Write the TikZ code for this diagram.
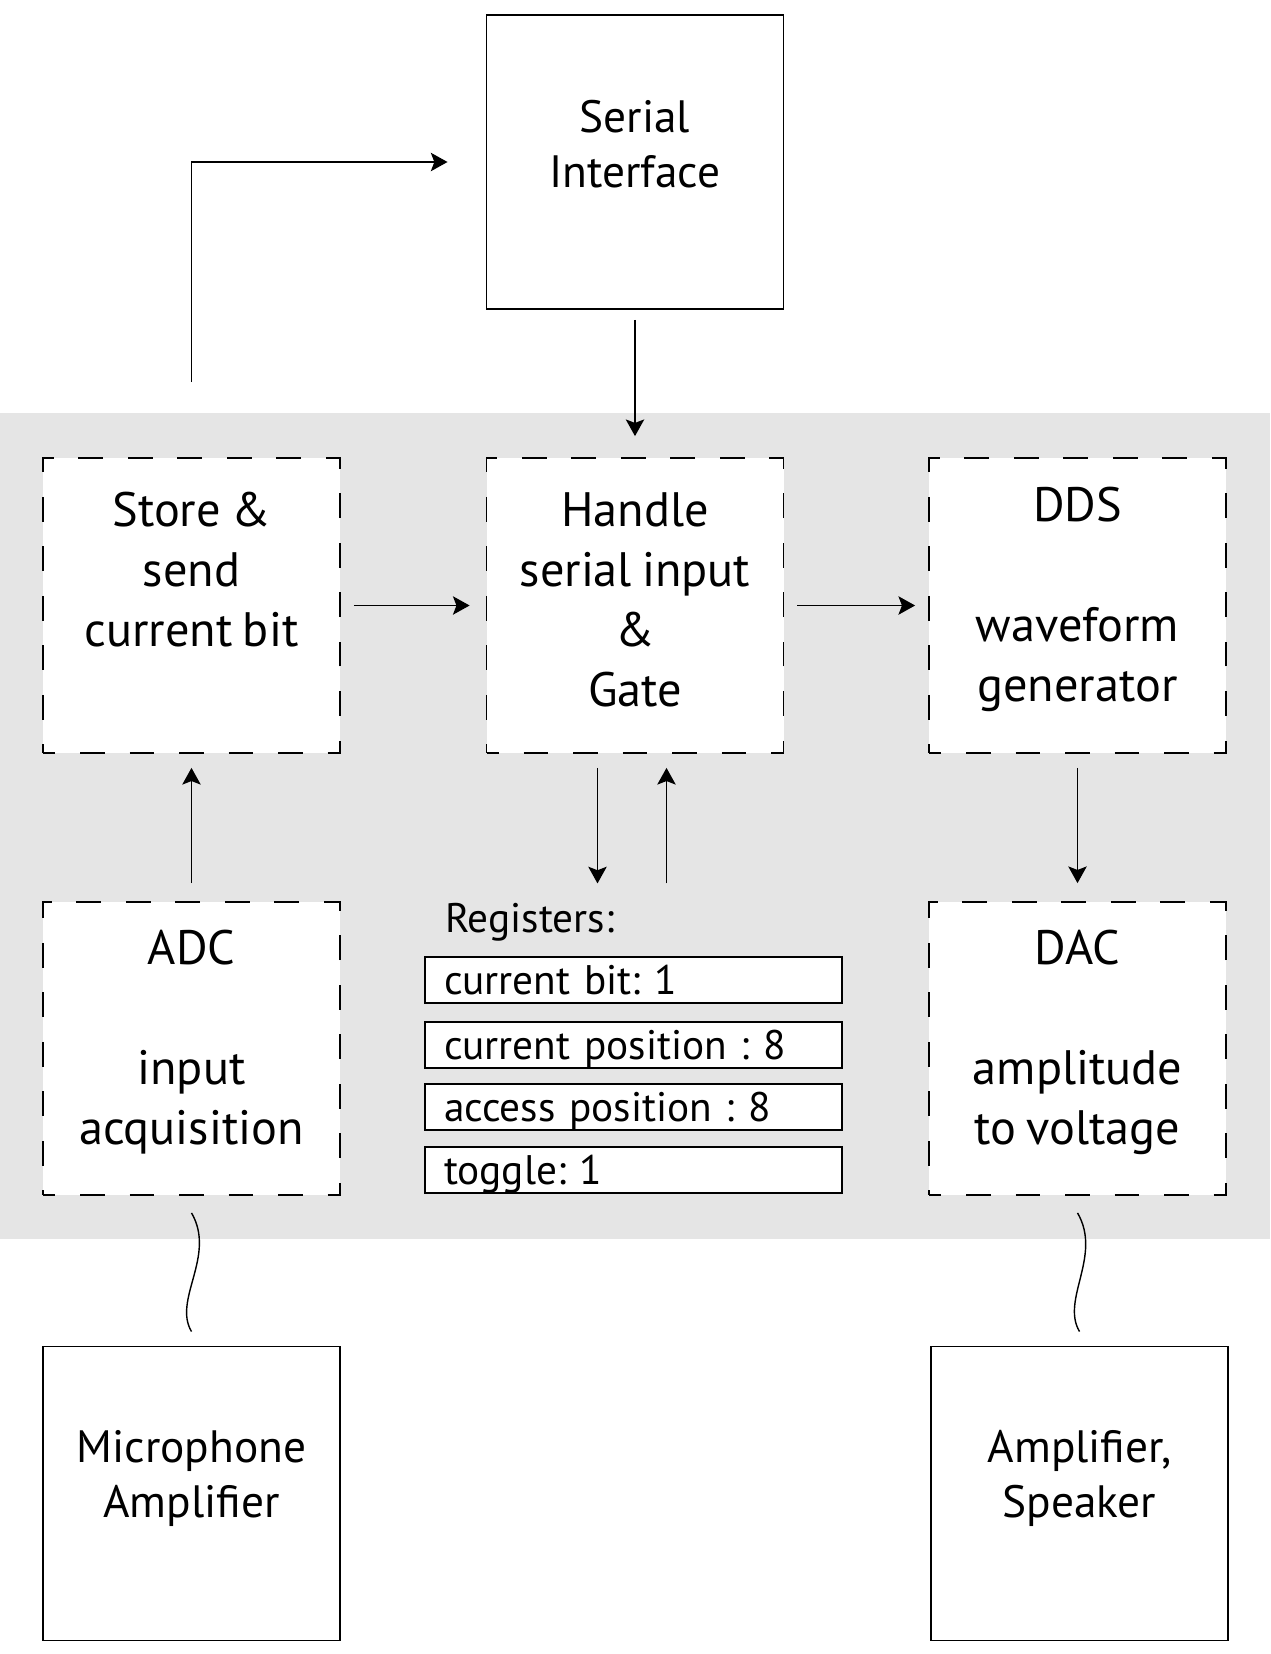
\documentclass[tikz,border=0pt]{standalone}
\usepackage{fontspec}
\setmainfont{PT Sans}[WordSpace=0.8]
\usepackage{tikz}
\usetikzlibrary{arrows.meta}

\definecolor{bandgray}{RGB}{229,229,229}
\frenchspacing

\tikzset{
    sysbox/.style={draw=black, line width=1.1pt, fill=white, text width=5.94cm, minimum height=5.88cm,
        inner sep=0pt, align=flush center, font=\fontsize{25.8}{31.3}\selectfont},
    blockbox/.style={draw=black, line width=1pt, dash pattern=on 14.08pt off 14.08pt, dash phase=7.04pt,
        fill=white, text width=5.94cm, minimum height=5.9cm, inner sep=0pt, align=flush center,
        font=\fontsize{27.5}{34.1}\selectfont, execute at end node=\vspace{0.24cm}},
    regbox/.style={draw=black, line width=1.1pt, fill=white, text width=7.58cm, minimum height=0.92cm,
        inner xsep=0.38cm, inner ysep=0pt, text height=0.56cm, text depth=0pt, align=left,
        font=\fontsize{23.5}{28}\selectfont},
    arr/.style={line width=0.8pt, -{Stealth[length=9.5pt, width=10.5pt, inset=2pt]}},
    wave/.style={line width=0.8pt}
}

\begin{document}
\begin{tikzpicture}
        \useasboundingbox (0, 0) rectangle (25.4, -33.08);
        \fill[bandgray] (0, -8.25) rectangle (25.4, -24.78);

        \node[sysbox] (serial) at (12.7, -3.24) {Serial\\Interface\\[-0.36cm]~};

        \node[blockbox] (store) at (3.83, -12.11) {Store \&\\send\\current bit\\~};
        \node[blockbox] (handle) at (12.7, -12.11) {Handle\\serial input\\\&\\Gate};
        \node[blockbox] (dds) at (21.55, -12.11) {DDS\\~\\waveform\\generator};
        \node[blockbox, minimum height=5.86cm] (adc) at (3.83, -20.97) {ADC\\~\\input\\acquisition};
        \node[blockbox, minimum height=5.86cm] (dac) at (21.55, -20.97) {DAC\\~\\amplitude\\to voltage};

        \node[anchor=base west, inner sep=0pt, font=\fontsize{23.5}{28}\selectfont] (reglabel) at (8.9, -18.64) {Registers:};
        \node[regbox] (regbit) at (12.67, -19.6) {current bit: 1};
        \node[regbox] (regcur) at (12.67, -20.9) {current position : 8};
        \node[regbox] (regacc) at (12.67, -22.14) {access position : 8};
        \node[regbox] (regtog) at (12.67, -23.4) {toggle: 1};

        \node[sysbox] (mic) at (3.83, -29.87) {Microphone\\Amplifier\\[-0.3cm]~};
        \node[sysbox] (spk) at (21.59, -29.87) {Amplifier,\\Speaker\\[-0.3cm]~};

        \draw [arr, shorten <=1.5cm, shorten >=0.76cm] (store.north) |- (serial.west);
        \path [arr, shorten <=0.2cm, shorten >=0.42cm] (serial) edge (handle);

        \path [arr, shorten <=0.26cm, shorten >=0.32cm] (store) edge (handle);
        \path [arr, shorten <=0.26cm, shorten >=0.26cm] (handle) edge (dds);
        \path [arr, shorten <=0.36cm, shorten >=0.28cm] (adc) edge (store);
        \path [arr, shorten <=0.28cm, shorten >=0.36cm] (dds) edge (dac);

        \draw [arr, shorten <=0.28cm, shorten >=0.38cm] ([xshift=-0.75cm]handle.south) -- ([xshift=-0.75cm]handle.south |- reglabel.north);
        \draw [arr, shorten <=0.38cm, shorten >=0.28cm] ([xshift=0.63cm]handle.south |- reglabel.north) -- ([xshift=0.63cm]handle.south);

        \draw [wave] ([yshift=-0.34cm]adc.south) .. controls +(0.5, -0.86) and +(-0.38, 0.64) .. ([yshift=0.28cm]mic.north);
        \draw [wave] ([yshift=-0.34cm]dac.south) .. controls +(0.5, -0.86) and +(-0.38, 0.64) .. ([yshift=0.28cm]spk.north);
    \end{tikzpicture}
\end{document}
